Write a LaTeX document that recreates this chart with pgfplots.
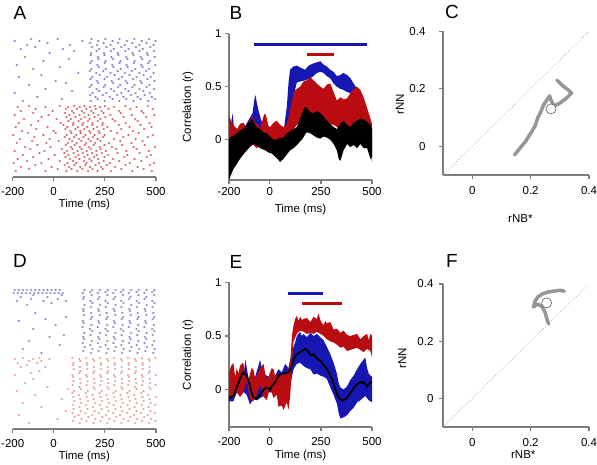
\documentclass[border=0pt]{standalone}
\usepackage{fontspec}
\setmainfont{Liberation Sans}
\usepackage{pgfplots}
\pgfplotsset{compat=1.18}
\definecolor{cblue}{RGB}{22,22,178}
\definecolor{cred}{RGB}{185,12,16}
\definecolor{axgray}{RGB}{125,125,125}
\definecolor{trgray}{RGB}{150,150,150}
\definecolor{rasred}{RGB}{195,35,35}
\definecolor{rasblue}{RGB}{60,60,185}
\definecolor{rasredD}{RGB}{215,85,85}
\pgfplotsset{
  base/.style={scale only axis, anchor=south west,
    axis line style={axgray, line width=1.2pt},
    every tick/.style={axgray, line width=1.2pt},
    major tick length=4pt, tick align=outside,
    tick label style={font=\fontsize{11.5}{13}\selectfont, text=black},
    label style={font=\fontsize{11.5}{13}\selectfont, text=black}},
  timeax/.style={xmin=-200, xmax=500, xtick={-200,0,250,500}, xticklabels={-200,0,250,500},
    xlabel={Time (ms)}, xlabel style={at={(axis description cs:0.5,-0.2)}, anchor=center}},
  raster/.style={base, timeax, width=143.3pt, height=140pt, ymin=0, ymax=140,
    axis x line*=bottom, axis y line=none, xticklabel shift=3pt},
  corr/.style={base, timeax, width=143pt, axis x line*=bottom, axis y line*=left,
    ytick={0,0.5,1}, yticklabels={0,0.5,1}, ymax=1, ylabel={Correlation (r)},
    ylabel style={at={(axis description cs:-0.287,0.5)}, anchor=center}},
  scat/.style={base, width=146pt, height=143.75pt, xmin=-0.1, xmax=0.4, ymin=-0.1, ymax=0.4,
    axis x line*=bottom, axis y line*=left, xtick={0,0.2,0.4}, xticklabels={0,0.2,0.4},
    ytick={0,0.2,0.4}, yticklabels={0,0.2,0.4}, xlabel={rNB*}, ylabel={rNN},
    xticklabel shift=4pt},
  dots/.style={only marks, mark=*, mark size=0.85pt, mark options={xscale=1.7, draw opacity=0, fill opacity=#1}},
}
\begin{document}
\begin{tikzpicture}
\path[use as bounding box] (0pt,0pt) rectangle (597pt,464pt);
% ---------------- A ----------------
\begin{axis}[raster, at={(12.7pt,287pt)}]
\addplot[dots=0.8, color=rasred] coordinates {
(-185,6)(-120,8)(-40,6)(20,8)(62,6)(88,8)(115,6)(140,8)(168,6)(190,8)(215,6)(240,8)(280,6)(330,8)(385,6)(440,8)(480,6)
(-160,10)(-90,12)(-10,10)(55,12)(75,10)(102,12)(130,10)(155,12)(178,10)(205,12)(232,10)(260,12)(300,10)(350,12)(410,10)(470,12)
(-195,14)(-130,16)(-60,14)(30,16)(68,14)(95,16)(110,14)(148,16)(160,14)(185,16)(222,14)(245,16)(275,14)(320,16)(372,14)(428,16)(490,14)
(-175,18)(-100,20)(-25,18)(58,20)(80,18)(108,20)(125,18)(150,20)(175,18)(198,20)(218,18)(248,20)(290,18)(345,20)(395,18)(455,20)
(-150,22)(-70,24)(5,22)(52,24)(72,22)(98,24)(120,22)(142,24)(166,22)(188,24)(210,22)(236,24)(265,22)(312,24)(360,22)(420,24)(475,22)
(-190,26)(-115,28)(-45,26)(40,28)(65,26)(92,28)(117,26)(137,28)(162,26)(182,28)(208,26)(230,28)(255,26)(305,28)(355,26)(405,28)(465,26)
(-140,30)(-80,32)(-15,30)(60,32)(85,30)(104,32)(128,30)(152,32)(172,30)(196,32)(226,30)(248,32)(285,30)(335,32)(390,30)(445,32)(495,30)
(-180,34)(-105,36)(-35,34)(25,36)(70,34)(90,36)(112,34)(135,36)(158,34)(180,36)(203,34)(228,36)(270,34)(325,36)(380,34)(435,36)
(-165,38)(-95,40)(-20,38)(54,40)(78,38)(100,40)(124,38)(146,40)(170,38)(192,40)(215,38)(242,40)(295,38)(340,40)(400,38)(460,40)
(-198,42)(-125,44)(-50,42)(10,44)(64,42)(86,44)(110,42)(132,44)(156,42)(179,44)(200,42)(224,44)(250,42)(310,44)(365,42)(415,44)(485,42)
(-155,46)(-85,48)(0,46)(57,48)(82,46)(106,48)(130,46)(149,48)(174,46)(194,48)(220,46)(245,48)(280,46)(330,48)(388,46)(442,48)
(-185,50)(-110,52)(-30,50)(48,52)(66,50)(94,52)(118,50)(140,52)(163,50)(188,52)(212,50)(238,52)(262,50)(318,52)(370,50)(425,52)(478,50)
(-170,54)(-75,56)(35,54)(72,56)(96,54)(122,56)(144,54)(168,56)(190,54)(216,56)(240,54)(300,56)(352,54)(410,56)(468,54)
(-145,58)(-60,60)(15,58)(62,60)(84,58)(108,60)(134,58)(152,60)(176,58)(200,60)(228,58)(252,60)(288,58)(342,60)(398,58)(452,60)
(-190,62)(-100,64)(-25,62)(55,64)(76,62)(98,64)(126,62)(148,64)(171,62)(195,64)(218,62)(244,64)(276,62)(328,64)(382,62)(438,64)(492,62)
(-160,66)(-88,68)(-5,66)(60,68)(90,66)(114,68)(138,66)(160,68)(184,66)(206,68)(234,66)(268,68)(320,66)(375,68)(430,66)(485,68)
(-175,70)(-120,71)(-40,70)(30,71)(70,70)(100,71)(128,70)(150,71)(178,70)(202,71)(226,70)(250,71)(295,70)(350,71)(405,70)(460,71)
};
\addplot[dots=0.75, color=rasblue] coordinates {
(-150,76)(40,78)(182,76)(215,78)(250,76)(288,78)(320,76)(355,78)(390,76)(425,78)(462,76)(495,78)
(-80,80)(178,82)(205,80)(240,82)(275,80)(310,82)(342,80)(378,82)(410,80)(445,82)(480,80)
(-190,84)(90,86)(190,84)(222,86)(258,84)(295,86)(330,84)(365,86)(400,84)(438,86)(470,84)
(-40,88)(176,90)(210,88)(245,90)(280,88)(315,90)(350,88)(385,90)(420,88)(455,90)(490,88)
(-120,92)(60,94)(185,92)(218,94)(252,92)(290,94)(325,92)(360,94)(395,92)(430,94)(468,92)
(10,96)(180,98)(212,96)(248,98)(284,96)(318,98)(352,96)(388,98)(424,96)(458,98)(492,96)
(-170,100)(-60,102)(188,100)(225,102)(260,100)(298,102)(335,100)(370,102)(405,100)(440,102)(475,100)
(120,104)(177,106)(208,104)(242,106)(278,104)(312,106)(348,104)(382,106)(418,104)(452,106)(488,104)
(-100,108)(30,110)(184,108)(220,110)(255,108)(292,110)(328,108)(362,110)(398,108)(434,110)(466,108)
(-180,112)(179,114)(214,112)(250,114)(286,112)(322,114)(356,112)(392,114)(428,112)(462,114)(496,112)
(-50,116)(75,118)(186,116)(219,118)(254,116)(290,118)(326,116)(360,118)(396,116)(432,118)(470,116)
(-140,120)(181,122)(216,120)(248,122)(282,120)(316,122)(354,120)(390,122)(426,120)(460,122)(494,120)
(-20,124)(100,126)(183,124)(210,126)(246,124)(280,126)(314,124)(350,126)(386,124)(420,126)(456,124)(490,126)
(-160,128)(-90,130)(45,128)(187,130)(222,128)(258,130)(294,128)(330,130)(366,128)(402,130)(436,128)(472,130)
(-130,132)(-30,134)(80,132)(178,134)(212,132)(244,134)(278,132)(314,134)(348,132)(384,134)(418,132)(454,134)(488,132)
(-190,136)(-110,138)(-70,136)(20,138)(140,136)(185,138)(218,136)(252,138)(288,136)(322,138)(358,136)(394,138)(430,136)(466,138)(498,136)
};
\end{axis}
% ---------------- D ----------------
\begin{axis}[raster, at={(12.7pt,35pt)}]
\addplot[dots=0.65, color=rasredD] coordinates {
(-120,6)(95,8)(128,6)(160,8)(195,6)(228,8)(262,6)(296,8)(330,6)(364,8)(398,6)(432,8)(466,6)(498,8)
(20,10)(102,12)(136,10)(170,12)(204,10)(238,12)(272,10)(306,12)(340,10)(374,12)(408,10)(442,12)(476,10)
(-170,14)(92,16)(122,14)(155,16)(188,14)(222,16)(256,14)(290,16)(324,14)(358,16)(392,14)(426,16)(460,14)(494,16)
(60,18)(98,20)(132,18)(166,20)(200,18)(234,20)(268,18)(302,20)(336,18)(370,20)(404,18)(438,20)(472,18)
(-60,22)(94,24)(126,22)(158,24)(192,22)(226,24)(260,22)(294,24)(328,22)(362,24)(396,22)(430,24)(464,22)(496,24)
(-150,26)(100,28)(134,26)(168,28)(202,26)(236,28)(270,26)(304,28)(338,26)(372,28)(406,26)(440,28)(474,26)
(40,30)(96,32)(130,30)(162,32)(196,30)(230,32)(264,30)(298,32)(332,30)(366,32)(400,30)(434,32)(468,30)(500,32)
(-90,34)(91,36)(124,34)(157,36)(190,34)(224,36)(258,34)(292,36)(326,34)(360,36)(394,34)(428,36)(462,34)
(-180,38)(70,40)(99,38)(133,40)(167,38)(201,40)(235,38)(269,40)(303,38)(337,40)(371,38)(405,40)(439,38)(473,40)
(-30,42)(93,44)(127,42)(161,44)(194,42)(228,44)(262,42)(296,44)(330,42)(364,44)(398,42)(432,44)(466,42)(498,44)
(-140,46)(97,48)(131,46)(165,48)(199,46)(233,48)(267,46)(301,48)(335,46)(369,48)(403,46)(437,48)(471,46)
(-100,50)(95,52)(129,50)(163,52)(197,50)(231,52)(265,50)(299,52)(333,50)(367,52)(401,50)(435,52)(469,50)
(-190,54)(-110,56)(92,54)(125,56)(159,54)(193,56)(227,54)(261,56)(295,54)(329,56)(363,54)(397,56)(431,54)(465,56)(499,54)
(-70,58)(98,60)(131,58)(164,60)(198,58)(232,60)(266,58)(300,60)(334,58)(368,60)(402,58)(436,60)(470,58)
(-160,62)(-130,64)(-40,62)(94,64)(128,62)(162,64)(196,62)(230,64)(264,62)(298,64)(332,62)(366,64)(400,62)(434,64)(468,62)
(-175,66)(-120,68)(-80,66)(-60,68)(96,66)(130,68)(164,66)(198,68)(232,66)(266,68)(300,66)(334,68)(368,66)(402,68)(436,66)(470,68)
(-190,70)(-150,71)(-100,70)(-70,71)(-20,70)(91,71)(125,70)(159,71)(193,70)(227,71)(261,70)(295,71)(329,70)(363,71)(397,70)(431,71)(465,70)(497,71)
};
\addplot[dots=0.7, color=rasblue] coordinates {
(-60,76)(145,78)(182,76)(220,78)(258,76)(296,78)(334,76)(372,78)(410,76)(448,78)(486,76)
(-150,80)(152,82)(190,80)(228,82)(266,80)(304,82)(342,80)(380,82)(418,80)(456,82)(494,80)
(30,84)(142,86)(178,84)(216,86)(254,84)(292,86)(330,84)(368,86)(406,84)(444,86)(482,84)
(-120,88)(148,90)(186,88)(224,90)(262,88)(300,90)(338,88)(376,90)(414,88)(452,90)(490,88)
(-20,92)(50,94)(144,92)(180,94)(218,92)(256,94)(294,92)(332,94)(370,92)(408,94)(446,92)(484,94)
(150,96)(188,98)(226,96)(264,98)(302,96)(340,98)(378,96)(416,98)(454,96)(492,98)
(-100,100)(141,102)(177,100)(215,102)(253,100)(291,102)(329,100)(367,102)(405,100)(443,102)(481,100)
(10,104)(147,106)(185,104)(223,106)(261,104)(299,106)(337,104)(375,106)(413,104)(451,106)(489,104)
(-170,108)(-40,110)(143,108)(181,110)(219,108)(257,110)(295,108)(333,110)(371,108)(409,110)(447,108)(485,110)
(60,112)(149,114)(187,112)(225,114)(263,112)(301,114)(339,112)(377,114)(415,112)(453,114)(491,112)
(-90,116)(146,118)(183,116)(221,118)(259,116)(297,118)(335,116)(373,118)(411,116)(449,118)(487,116)
(145,120)(182,122)(218,120)(255,122)(293,120)(331,122)(369,120)(407,122)(445,120)(483,122)
(-130,124)(-10,126)(151,124)(189,126)(227,124)(265,126)(303,124)(341,126)(379,124)(417,126)(455,124)(493,126)
(-180,128)(-110,130)(-50,128)(20,130)(60,128)(144,130)(180,128)(217,130)(254,128)(292,130)(330,128)(368,130)(406,128)(444,130)(482,128)
(-160,132)(-100,134)(-30,132)(40,134)(148,132)(186,134)(224,132)(262,134)(300,132)(338,134)(376,132)(414,134)(452,132)(490,134)
(-195,136)(-175,136)(-155,136)(-135,136)(-115,136)(-95,136)(-75,136)(-55,136)(-35,136)(-15,136)(5,136)(25,136)(45,136)(143,136)(179,137)(216,136)(253,137)(291,136)(329,137)(367,136)(405,137)(443,136)(481,137)
(-190,139)(-170,139)(-150,139)(-130,139)(-110,139)(-90,139)(-70,139)(-50,139)(-30,139)(-10,139)(10,139)(30,139)(150,139)(188,139)(226,139)(264,139)(302,139)(340,139)(378,139)(416,139)(454,139)(492,139)
};
\end{axis}
% ---------------- B ----------------
\begin{axis}[corr, at={(229pt,284pt)}, height=146.3pt, ymin=-0.38]
\addplot[fill=cblue, draw=none] coordinates {
(-200,0.21)(-190,0.15)(-182,0.25)(-176,0.12)(-160,0.10)(-146,0.12)(-130,0.08)(-115,0.15)(-97,0.21)(-85,0.25)(-76,0.38)(-70,0.42)(-64,0.35)(-56,0.28)(-45,0.20)(-31,0.12)(-15,0.08)(0,0.10)(18,0.06)(35,0.05)(58,0.09)(70,0.12)(83,0.31)(92,0.55)(99,0.66)(115,0.69)(132,0.70)(150,0.68)(173,0.66)(190,0.70)(214,0.72)(230,0.73)(247,0.74)(262,0.71)(279,0.69)(295,0.66)(312,0.64)(328,0.60)(345,0.61)(360,0.63)(378,0.61)(394,0.58)(410,0.53)(427,0.48)(440,0.42)
(440,0.36)(427,0.40)(410,0.43)(394,0.44)(378,0.45)(360,0.47)(345,0.48)(328,0.50)(312,0.53)(295,0.58)(279,0.60)(263,0.63)(247,0.64)(230,0.63)(214,0.60)(198,0.58)(173,0.56)(150,0.55)(132,0.54)(115,0.40)(99,0.12)(83,0.03)(70,-0.02)(58,-0.05)(35,-0.03)(18,-0.05)(0,-0.02)(-20,0.0)(-40,0.02)(-60,0.05)(-76,0.08)(-97,0.0)(-120,-0.02)(-146,-0.05)(-170,-0.08)(-200,-0.07)
} -- cycle;
\addplot[fill=cred, draw=none] coordinates {
(-200,0.23)(-190,0.18)(-180,0.14)(-170,0.12)(-160,0.10)(-146,0.15)(-130,0.16)(-115,0.12)(-97,0.18)(-89,0.23)(-81,0.20)(-70,0.16)(-56,0.14)(-48,0.10)(-31,0.22)(-23,0.25)(-15,0.20)(-7,0.13)(1,0.12)(18,0.16)(34,0.18)(50,0.14)(67,0.12)(83,0.15)(99,0.28)(108,0.35)(116,0.45)(132,0.48)(148,0.50)(165,0.55)(181,0.56)(198,0.59)(214,0.56)(230,0.53)(247,0.50)(263,0.48)(279,0.52)(296,0.53)(312,0.45)(328,0.37)(345,0.40)(361,0.38)(378,0.39)(394,0.44)(410,0.48)(427,0.50)(443,0.47)(459,0.40)(476,0.30)(492,0.20)(500,0.15)
(500,-0.21)(492,-0.12)(476,-0.02)(459,0.02)(443,0.08)(427,0.13)(410,0.15)(394,0.12)(378,0.10)(361,0.08)(345,0.09)(328,0.12)(312,0.14)(296,0.15)(279,0.18)(263,0.20)(247,0.21)(230,0.23)(214,0.22)(198,0.25)(181,0.22)(165,0.18)(148,0.17)(132,0.14)(116,0.10)(99,0.02)(83,-0.02)(67,-0.08)(50,-0.13)(34,-0.10)(18,-0.06)(1,-0.04)(-15,-0.05)(-31,-0.08)(-48,-0.06)(-64,-0.08)(-81,-0.05)(-97,-0.04)(-130,-0.02)(-160,-0.03)(-180,-0.01)(-200,0.0)
} -- cycle;
\addplot[fill=black, draw=none] coordinates {
(-200,0.0)(-190,0.03)(-176,0.04)(-162,0.06)(-146,0.09)(-130,0.10)(-113,0.14)(-97,0.17)(-89,0.20)(-81,0.18)(-72,0.14)(-64,0.12)(-48,0.10)(-31,0.07)(-15,0.06)(1,0.03)(18,0.00)(34,0.0)(50,0.02)(67,0.02)(83,0.06)(99,0.08)(116,0.10)(132,0.12)(148,0.20)(165,0.28)(173,0.31)(181,0.30)(198,0.26)(214,0.25)(230,0.27)(247,0.25)(263,0.22)(279,0.18)(296,0.15)(312,0.12)(328,0.10)(345,0.15)(361,0.18)(378,0.14)(394,0.12)(410,0.16)(427,0.18)(443,0.20)(459,0.19)(476,0.17)(492,0.14)(500,0.10)
(500,-0.16)(492,-0.18)(476,-0.08)(459,-0.08)(443,-0.04)(427,-0.08)(410,-0.05)(394,-0.07)(378,-0.04)(361,-0.10)(345,-0.20)(337,-0.18)(328,-0.10)(312,-0.04)(296,0.0)(279,0.02)(263,0.03)(247,0.01)(230,0.02)(214,0.04)(198,0.06)(181,0.07)(173,0.05)(157,0.0)(132,-0.05)(116,-0.08)(99,-0.10)(83,-0.14)(67,-0.18)(50,-0.21)(42,-0.19)(26,-0.16)(9,-0.13)(-7,-0.12)(-23,-0.10)(-48,-0.08)(-64,-0.05)(-81,-0.04)(-97,-0.07)(-113,-0.10)(-130,-0.14)(-146,-0.18)(-162,-0.23)(-179,-0.28)(-190,-0.33)(-200,-0.38)
} -- cycle;
\addplot[cblue, line width=3pt] coordinates {(-80,0.9)(475,0.9)};
\addplot[cred, line width=3pt] coordinates {(182,0.8)(314,0.8)};
\end{axis}
% ---------------- E ----------------
\begin{axis}[corr, at={(229pt,37pt)}, height=144.5pt, ymin=-0.35, xticklabel shift=3pt]
\addplot[fill=cblue, draw=none] coordinates {
(-200,0.03)(-190,0.08)(-179,0.12)(-162,0.13)(-146,0.16)(-130,0.10)(-120,0.28)(-113,0.20)(-97,0.03)(-89,0.10)(-72,0.12)(-56,0.22)(-48,0.28)(-40,0.20)(-23,0.14)(-7,0.12)(9,0.10)(26,0.13)(42,0.19)(58,0.16)(75,0.24)(91,0.20)(99,0.28)(108,0.33)(116,0.40)(124,0.44)(132,0.50)(148,0.54)(157,0.50)(165,0.52)(181,0.49)(198,0.53)(214,0.50)(230,0.52)(247,0.49)(263,0.46)(279,0.40)(296,0.33)(312,0.25)(328,0.15)(337,0.06)(345,0.02)(361,0.0)(378,0.03)(394,0.09)(410,0.13)(427,0.19)(443,0.24)(459,0.28)(467,0.30)(476,0.20)(484,0.15)(492,0.13)(500,0.12)
(500,-0.12)(484,-0.10)(467,-0.06)(443,-0.10)(427,-0.12)(410,-0.17)(394,-0.20)(378,-0.24)(361,-0.26)(345,-0.27)(337,-0.22)(328,-0.13)(312,-0.05)(296,0.02)(279,0.10)(263,0.12)(247,0.13)(230,0.15)(214,0.14)(198,0.19)(181,0.20)(165,0.22)(148,0.25)(132,0.24)(116,0.19)(108,0.12)(99,0.02)(83,0.01)(67,0.03)(50,0.02)(34,0.05)(18,-0.02)(1,-0.03)(-15,0.0)(-31,-0.06)(-48,-0.08)(-64,-0.10)(-81,-0.09)(-97,-0.14)(-113,-0.05)(-130,-0.02)(-146,-0.06)(-162,-0.03)(-179,-0.11)(-200,-0.11)
} -- cycle;
\addplot[fill=cred, draw=none] coordinates {
(-200,0.16)(-190,0.22)(-179,0.25)(-170,0.12)(-162,0.20)(-154,0.15)(-146,0.22)(-138,0.24)(-130,0.25)(-120,0.12)(-105,0.08)(-97,0.15)(-89,0.20)(-81,0.19)(-72,0.10)(-56,0.16)(-48,0.20)(-40,0.22)(-31,0.24)(-23,0.15)(-15,0.10)(-7,0.12)(9,0.20)(18,0.19)(26,0.12)(42,0.15)(58,0.12)(67,0.16)(75,0.14)(91,0.19)(100,0.25)(108,0.50)(116,0.60)(124,0.66)(132,0.69)(140,0.64)(148,0.68)(157,0.65)(165,0.66)(181,0.67)(198,0.63)(214,0.68)(230,0.66)(238,0.71)(247,0.65)(255,0.62)(263,0.60)(271,0.64)(279,0.62)(296,0.63)(312,0.56)(328,0.57)(345,0.53)(361,0.55)(378,0.51)(394,0.50)(410,0.51)(427,0.52)(443,0.47)(459,0.50)(476,0.52)(484,0.46)(492,0.52)(500,0.50)
(500,0.30)(492,0.36)(476,0.38)(459,0.35)(443,0.37)(427,0.39)(410,0.38)(394,0.37)(378,0.36)(361,0.40)(345,0.39)(328,0.42)(312,0.44)(296,0.45)(279,0.47)(263,0.50)(247,0.52)(230,0.54)(214,0.52)(198,0.53)(181,0.52)(165,0.54)(148,0.55)(132,0.52)(116,0.45)(108,0.25)(100,-0.05)(91,-0.19)(83,-0.12)(67,-0.19)(58,-0.15)(42,-0.16)(34,-0.05)(18,-0.08)(1,0.02)(-15,-0.10)(-31,-0.07)(-48,0.05)(-64,-0.05)(-81,-0.11)(-97,-0.09)(-113,0.08)(-130,-0.03)(-146,-0.07)(-162,-0.02)(-179,-0.08)(-200,-0.06)
} -- cycle;
\addplot[black, line width=1.8pt] coordinates {
(-200,-0.08)(-190,-0.07)(-179,-0.06)(-170,-0.02)(-162,0.02)(-154,0.06)(-146,0.10)(-138,0.14)(-130,0.16)(-122,0.14)(-113,0.13)(-105,0.08)(-97,0.03)(-89,-0.03)(-81,-0.07)(-72,-0.08)(-64,-0.09)(-56,-0.07)(-48,-0.05)(-40,-0.03)(-31,0.0)(-23,0.01)(-15,0.02)(1,0.0)(9,0.03)(18,0.05)(26,0.07)(34,0.10)(42,0.13)(50,0.14)(58,0.15)(67,0.15)(75,0.15)(83,0.16)(91,0.16)(99,0.18)(108,0.23)(116,0.28)(124,0.31)(132,0.33)(140,0.34)(148,0.35)(157,0.36)(165,0.37)(173,0.38)(181,0.37)(190,0.35)(198,0.33)(206,0.32)(214,0.33)(222,0.31)(230,0.29)(238,0.28)(247,0.27)(255,0.25)(263,0.23)(271,0.21)(279,0.19)(288,0.16)(296,0.13)(304,0.10)(312,0.05)(320,0.0)(328,-0.04)(337,-0.07)(345,-0.09)(353,-0.10)(361,-0.10)(369,-0.09)(378,-0.08)(386,-0.05)(394,-0.03)(402,-0.01)(410,0.01)(418,0.03)(427,0.05)(435,0.06)(443,0.07)(451,0.06)(459,0.07)(467,0.05)(476,0.03)(484,0.05)(492,0.07)(500,0.06)
};
\addplot[cblue, line width=3pt] coordinates {(90,0.9)(260,0.9)};
\addplot[cred, line width=3pt] coordinates {(157,0.8)(353,0.8)};
\end{axis}
% ---------------- C ----------------
\begin{axis}[scat, at={(443pt,289pt)}, yticklabel shift=10pt,
  xlabel style={at={(axis description cs:0.53,-0.30)}, anchor=center},
  ylabel style={at={(axis description cs:-0.295,0.49)}, anchor=center}]
\addplot[axgray!80, dotted, line width=0.7pt] coordinates {(-0.1,-0.1)(0.4,0.4)};
\addplot[trgray, line width=3.5pt, line join=round, line cap=round] coordinates {
(0.145,-0.03)(0.165,-0.005)(0.185,0.02)(0.20,0.045)(0.215,0.07)(0.225,0.10)(0.235,0.12)(0.245,0.145)(0.255,0.16)(0.265,0.175)(0.27,0.16)(0.28,0.14)(0.30,0.15)(0.32,0.165)(0.34,0.185)(0.33,0.195)(0.31,0.21)(0.29,0.23)
};
\addplot[only marks, mark=*, mark size=5pt, mark options={fill=white, draw=gray!70!black, line width=0.6pt}] coordinates {(0.27,0.13)};
\end{axis}
% ---------------- F ----------------
\begin{axis}[scat, at={(443pt,37pt)}, height=143pt, yticklabel shift=2pt,
  xlabel style={at={(axis description cs:0.55,-0.196)}, anchor=center},
  ylabel style={at={(axis description cs:-0.28,0.48)}, anchor=center}]
\addplot[axgray!80, dotted, line width=0.7pt] coordinates {(-0.1,-0.1)(0.4,0.4)};
\addplot[trgray, line width=3.5pt, line join=round, line cap=round] coordinates {
(0.262,0.26)(0.255,0.28)(0.25,0.30)(0.245,0.31)(0.24,0.32)(0.225,0.33)(0.21,0.32)(0.215,0.34)(0.225,0.355)(0.24,0.365)(0.26,0.372)(0.28,0.375)(0.30,0.378)(0.315,0.375)
};
\addplot[only marks, mark=*, mark size=5pt, mark options={fill=white, draw=gray!70!black, line width=0.6pt}] coordinates {(0.255,0.334)};
\end{axis}
% ---------------- panel letters ----------------
\node[font=\fontsize{19}{19}\selectfont] at (20pt,451pt) {A};
\node[font=\fontsize{19}{19}\selectfont] at (236pt,451pt) {B};
\node[font=\fontsize{19}{19}\selectfont] at (452pt,452pt) {C};
\node[font=\fontsize{19}{19}\selectfont] at (20pt,203pt) {D};
\node[font=\fontsize{19}{19}\selectfont] at (236pt,202pt) {E};
\node[font=\fontsize{19}{19}\selectfont] at (452pt,203pt) {F};
\end{tikzpicture}
\end{document}
